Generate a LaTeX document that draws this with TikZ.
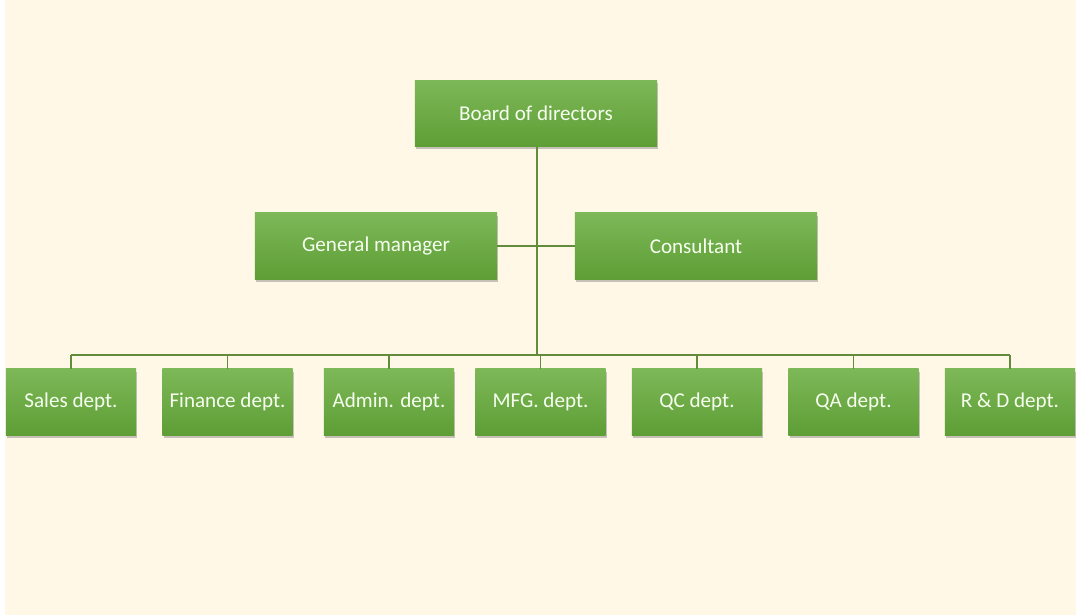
\documentclass[tikz,border=0pt]{standalone}
\usepackage{fontspec}
\setmainfont{Carlito}
\usetikzlibrary{shadows}
\definecolor{Bg}{RGB}{255, 248, 230}
\definecolor{Gt}{RGB}{125, 184, 88}
\definecolor{Gb}{RGB}{94, 158, 53}
\definecolor{L}{RGB}{98, 140, 60}
\definecolor{T}{RGB}{246, 255, 240}
\tikzset{
   orgbox/.style={rectangle, top color=Gt, bottom color=Gb, draw=none,
      text=T, font=\fontsize{15}{18}\selectfont,
      drop shadow={shadow xshift=0.8pt, shadow yshift=-2pt, opacity=0.45},
      minimum width=6.05cm, minimum height=1.65cm, inner sep=0pt},
   deptbox/.style={orgbox, minimum width=3.25cm},
   link/.style={L, line width=0.8pt}
}

\begin{document}
\begin{tikzpicture}[x=0.025cm, y=-0.025cm]
   \useasboundingbox (0,0) rectangle (1076,615);
   \fill[white] (0,0) rectangle (1076,615);
   \fill[Bg] (5,0) rectangle (1076,615);
   % top levels
   \node[orgbox] (board) at (536,113.5) {Board of directors};
   \node[orgbox] (gm) at (376,246) {General manager};
   \node[orgbox] (con) at (696,246) {Consultant};
   % departments
   \node[deptbox] (sales) at (71,402) {Sales dept.};
   \node[deptbox] (fin) at (227.5,402) {Finance dept.};
   \node[deptbox] (adm) at (389,402) {Admin. dept.};
   \node[deptbox] (mfg) at (540.5,402) {MFG. dept.};
   \node[deptbox] (qc) at (697,402) {QC dept.};
   \node[deptbox] (qa) at (853.5,402) {QA dept.};
   \node[deptbox] (rd) at (1010,402) {R \& D dept.};
   \coordinate (bus) at (537,355);
   % connectors
   \draw[link] (board.south -| bus) -- (bus);
   \draw[link] (gm.east) -- (con.west);
   \draw[link] (sales.north |- bus) -- (rd.north |- bus);
   \foreach \d in {sales, fin, adm, mfg, qc, qa, rd}
      \draw[link] (\d.north) -- (\d.north |- bus);
\end{tikzpicture}
\end{document}
